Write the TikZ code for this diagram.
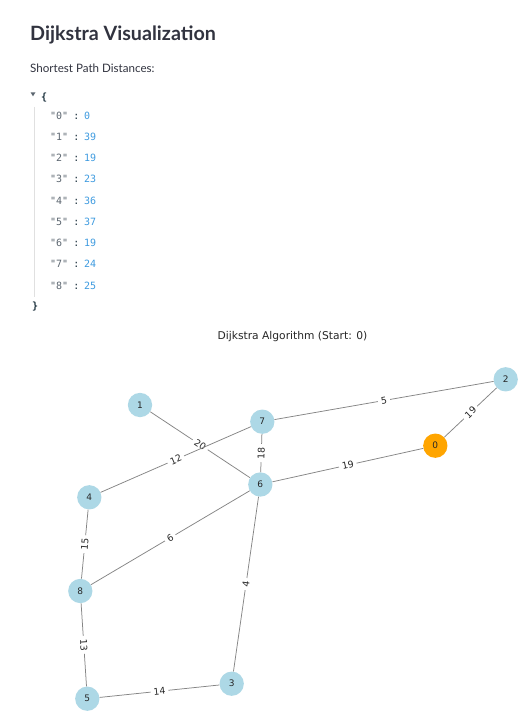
\documentclass[tikz,border=0pt]{standalone}
\usepackage{fontspec}
\setmainfont{DejaVu Sans}
\newfontfamily\headfont{Lato}
\newfontfamily\jsonfont{DejaVu Sans Mono}
\newfontfamily\plotfont{DejaVu Sans}
\definecolor{headc}{HTML}{31333F}
\definecolor{keyc}{HTML}{5C6670}
\definecolor{valc}{HTML}{3E9BE0}
\definecolor{bracec}{HTML}{1F3440}
\definecolor{nodeblue}{HTML}{ADD8E6}
\definecolor{nodeorange}{HTML}{FFA500}
\definecolor{edgec}{HTML}{858585}
\tikzset{
  gnode/.style={circle, fill=nodeblue, minimum size=24.3pt, inner sep=0pt,
    font=\plotfont\fontsize{9}{10}\selectfont, text=black!85},
  startnode/.style={gnode, fill=nodeorange},
  gedge/.style={draw=edgec, line width=0.75pt},
  elabel/.style={sloped, fill=white, inner xsep=3pt, inner ysep=1.5pt, rounded corners=1pt,
    font=\plotfont\fontsize{9.3}{10}\selectfont, text=black!85},
  jkey/.style={anchor=base west, inner sep=0pt, font=\jsonfont\fontsize{10}{12}\selectfont, text=keyc},
  jval/.style={anchor=base west, inner sep=0pt, font=\jsonfont\fontsize{10}{12}\selectfont, text=valc},
  jcolon/.style={anchor=base, inner sep=0pt, font=\jsonfont\fontsize{10}{12}\selectfont, text=bracec},
}
\begin{document}
\begin{tikzpicture}[x=1pt,y=-1pt]
\fill[white] (0,0) rectangle (531,719);
\useasboundingbox (0,0) rectangle (531,719);

% header
\node[anchor=base west, inner sep=0pt, font=\headfont\bfseries\fontsize{19.7}{24}\selectfont, text=headc] (head) at (30,41) {Dijkstra Visualization};
\node[anchor=base west, inner sep=0pt, font=\headfont\fontsize{11.6}{14}\selectfont, text=headc] (sub) at (30,73) {Shortest Path Distances:};

% json viewer
\fill[keyc] (30.5,92.3) -- (35.5,92.3) -- (33,96.3) -- cycle;
\node[anchor=base west, inner sep=0pt, font=\jsonfont\bfseries\fontsize{10}{12}\selectfont, text=bracec] (open) at (41,101) {\{};
\draw[black!12, line width=1pt] (34.7,107) -- (34.7,297);
\foreach \k/\v [count=\i from 0] in {0/0,1/39,2/19,3/23,4/36,5/37,6/19,7/24,8/25}{
  \pgfmathsetmacro{\yy}{115.5+21.25*\i+3.6}
  \node[jkey] (k\k) at (50,\yy) {"\k"};
  \node[jcolon] (c\k) at (76.5,\yy) {:};
  \node[jval] (v\k) at (84,\yy) {\v};
}
\node[anchor=base west, inner sep=0pt, font=\jsonfont\bfseries\fontsize{10}{12}\selectfont, text=bracec] (close) at (32,309) {\}};

% plot title
\node[font=\plotfont\fontsize{10.7}{12}\selectfont, text=black!85] (ptitle) at (292.5,336.7) {Dijkstra Algorithm (Start: 0)};

% graph nodes
\node[startnode] (n0) at (435.3,445.7) {0};
\node[gnode] (n1) at (140,405) {1};
\node[gnode] (n2) at (505.7,379.3) {2};
\node[gnode] (n3) at (231.7,683.7) {3};
\node[gnode] (n4) at (89.3,497.3) {4};
\node[gnode] (n5) at (87.3,698.7) {5};
\node[gnode] (n6) at (260.3,484.5) {6};
\node[gnode] (n7) at (262.3,421.7) {7};
\node[gnode] (n8) at (80.3,591) {8};

% edges
\draw[gedge] (n1) -- node[elabel] {20} (n6);
\draw[gedge] (n7) -- node[elabel] {12} (n4);
\draw[gedge] (n7) -- node[elabel] {5} (n2);
\draw[gedge] (n7) -- node[elabel] {18} (n6);
\draw[gedge] (n6) -- node[elabel] {19} (n0);
\draw[gedge] (n0) -- node[elabel] {19} (n2);
\draw[gedge] (n4) -- node[elabel] {15} (n8);
\draw[gedge] (n8) -- node[elabel] {6} (n6);
\draw[gedge] (n6) -- node[elabel] {4} (n3);
\draw[gedge] (n8) -- node[elabel] {13} (n5);
\draw[gedge] (n5) -- node[elabel] {14} (n3);
\end{tikzpicture}
\end{document}
